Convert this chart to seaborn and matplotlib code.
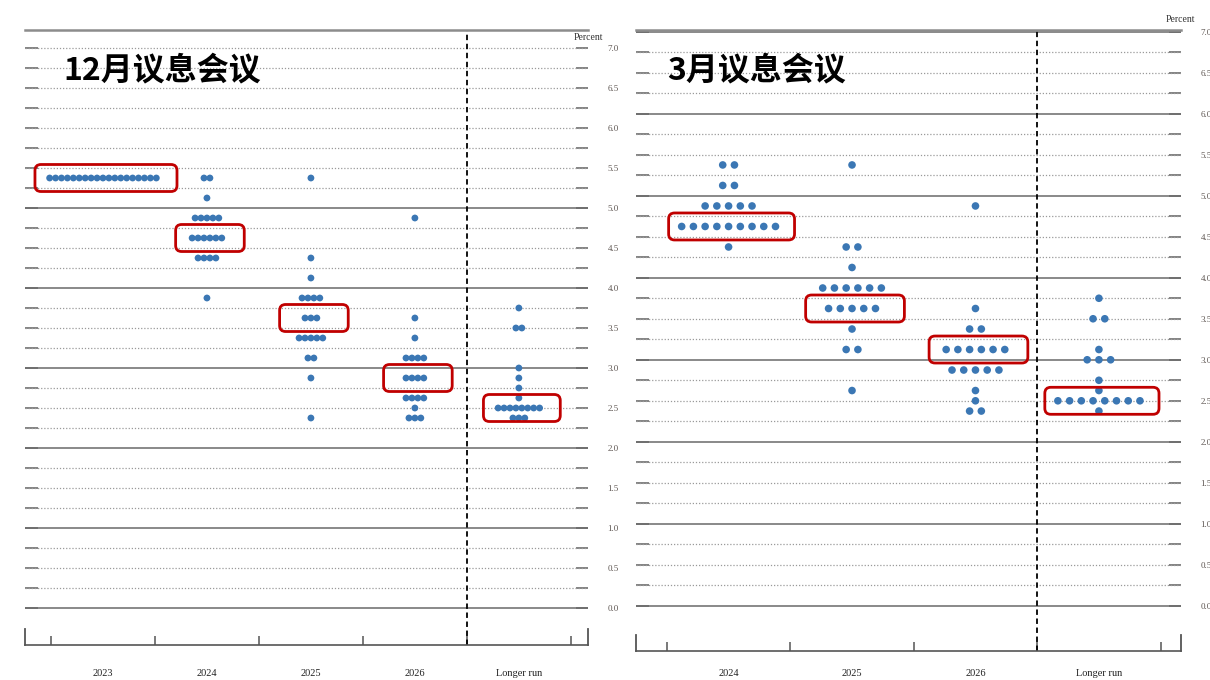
import numpy as np
import pandas as pd
import matplotlib
matplotlib.use('Agg')
import matplotlib.pyplot as plt
import seaborn as sns
from matplotlib.patches import FancyBboxPatch

# December 2023 projections (left panel)
dec_years = ['2023', '2024', '2025', '2026', 'Longer run']
dec_2023_rates = [5.375]
dec_2023_counts = [19]
dec_2024_rates = [5.375, 5.125, 4.875, 4.625, 4.375, 3.875]
dec_2024_counts = [2, 1, 5, 6, 4, 1]
dec_2025_rates = [5.375, 4.375, 4.125, 3.875, 3.625, 3.375, 3.125, 2.875, 2.375]
dec_2025_counts = [1, 1, 1, 4, 3, 5, 2, 1, 1]
dec_2026_rates = [4.875, 3.625, 3.375, 3.125, 2.875, 2.625, 2.5, 2.375]
dec_2026_counts = [1, 1, 1, 4, 4, 4, 1, 3]
dec_lr_rates = [3.75, 3.5, 3.0, 2.875, 2.75, 2.625, 2.5, 2.375]
dec_lr_counts = [1, 2, 1, 1, 1, 1, 8, 3]
dec_boxed = [5.375, 4.625, 3.625, 2.875, 2.5]

# March 2024 projections (right panel)
mar_years = ['2024', '2025', '2026', 'Longer run']
mar_2024_rates = [5.375, 5.125, 4.875, 4.625, 4.375]
mar_2024_counts = [2, 2, 5, 9, 1]
mar_2025_rates = [5.375, 4.375, 4.125, 3.875, 3.625, 3.375, 3.125, 2.625]
mar_2025_counts = [1, 2, 1, 6, 5, 1, 2, 1]
mar_2026_rates = [4.875, 3.625, 3.375, 3.125, 2.875, 2.625, 2.5, 2.375]
mar_2026_counts = [1, 1, 2, 6, 5, 1, 1, 2]
mar_lr_rates = [3.75, 3.5, 3.125, 3.0, 2.75, 2.625, 2.5, 2.375]
mar_lr_counts = [1, 2, 1, 3, 1, 1, 8, 1]
mar_boxed = [4.625, 3.625, 3.125, 2.5]

y_levels = np.arange(0, 7.01, 0.25)
y_labels = np.arange(0, 7.01, 0.5)

DOT = '#3b77b4'
RED = '#c00000'


def dots_frame(years, rates_by_year, counts_by_year, spacing):
    rows = []
    for i, (rates, counts) in enumerate(zip(rates_by_year, counts_by_year)):
        for r, c in zip(rates, counts):
            for o in (np.arange(c) - (c - 1) / 2) * spacing:
                rows.append({'x': i + o, 'rate': r, 'year': years[i]})
    return pd.DataFrame(rows)


def draw_panel(ax, years, rates_by_year, counts_by_year, boxed, spacing, dot_size,
               ylim, solid_max, box_pad, box_min, label_pad):
    n = len(years)
    xlim = (-0.75, n - 0.5 + 0.165)
    ax.set_xlim(xlim)
    ax.set_ylim(ylim)

    # grid: solid at whole numbers, dotted elsewhere
    for lv in y_levels:
        if lv % 1 == 0 and lv <= solid_max:
            ax.axhline(lv, color='#6a6a6a', lw=1.1, zorder=1)
        else:
            ax.axhline(lv, color='#9a9a9a', lw=0.9, ls=(0, (1, 1.5)), zorder=1)

    df = dots_frame(years, rates_by_year, counts_by_year, spacing)
    sns.scatterplot(data=df, x='x', y='rate', ax=ax, color=DOT, s=dot_size,
                    edgecolor='none', zorder=3, legend=False)

    ax.axvline(n - 1.5, color='black', lw=1.3, ls=(0, (3, 2)), zorder=2)

    # red boxes around the median rows
    bbox = ax.get_window_extent()
    px = bbox.width / (xlim[1] - xlim[0])
    py = bbox.height / (ylim[1] - ylim[0])
    for i, (rates, counts, b) in enumerate(zip(rates_by_year, counts_by_year, boxed)):
        c = counts[rates.index(b)]
        half = max((c - 1) / 2 * spacing + box_pad, box_min)
        h = 13.5 / py
        patch = FancyBboxPatch((i - half + 3 / px, b - h), 2 * half, 2 * h,
                               boxstyle='round,pad=0,rounding_size=%f' % (6 / px),
                               mutation_aspect=px / py, fc='none', ec=RED,
                               lw=2.0, zorder=4)
        ax.add_patch(patch)

    # axes cosmetics
    ax.set_xlabel('')
    ax.set_ylabel('')
    bounds = np.arange(n + 1) - 0.5
    ax.set_xticks(bounds)
    ax.set_xticklabels([''] * len(bounds))
    ax.set_xticks(np.arange(n), minor=True)
    ax.set_xticklabels(years, minor=True, fontsize=7.5, color='#222222')
    ax.tick_params(axis='x', which='major', direction='in', length=6.5, width=1.1,
                   color='#555555', bottom=True)
    ax.tick_params(axis='x', which='minor', length=0, pad=label_pad, bottom=True)

    ax.set_yticks(y_levels)
    ax.set_yticklabels(['%.1f' % v if v in y_labels else '' for v in y_levels])
    ax.tick_params(axis='y', direction='in', length=9, width=1.3, color='#7a7a7a',
                   left=True, right=True, labelleft=False, labelright=True,
                   pad=14, labelsize=6.5, labelcolor='#5e5652')

    for side in ['left', 'right']:
        ax.spines[side].set_bounds(ylim[0], ylim[0] + 16 / py)
        ax.spines[side].set_color('#555555')
        ax.spines[side].set_linewidth(1.3)
    ax.spines['bottom'].set_color('#555555')
    ax.spines['bottom'].set_linewidth(1.2)
    ax.spines['top'].set_color('#8c8c8c')
    ax.spines['top'].set_linewidth(1.8)


sns.set_theme(style='white')
plt.rcParams['font.family'] = ['Liberation Serif', 'DejaVu Sans']

fig = plt.figure(figsize=(12.1, 6.8), dpi=100)
ax1 = fig.add_axes([25 / 1210, 35 / 680, 563 / 1210, 615 / 680])
ax2 = fig.add_axes([636 / 1210, 29 / 680, 545 / 1210, 621 / 680])

draw_panel(ax1, dec_years,
           [dec_2023_rates, dec_2024_rates, dec_2025_rates, dec_2026_rates, dec_lr_rates],
           [dec_2023_counts, dec_2024_counts, dec_2025_counts, dec_2026_counts, dec_lr_counts],
           dec_boxed, spacing=0.057, dot_size=24, ylim=(-0.4625, 7.225), solid_max=5,
           box_pad=0.17, box_min=0.33, label_pad=17.5)

draw_panel(ax2, mar_years,
           [mar_2024_rates, mar_2025_rates, mar_2026_rates, mar_lr_rates],
           [mar_2024_counts, mar_2025_counts, mar_2026_counts, mar_lr_counts],
           mar_boxed, spacing=0.095, dot_size=30, ylim=(-0.55, 7.02), solid_max=7,
           box_pad=0.13, box_min=0.40, label_pad=13)

cjk = ['Noto Sans CJK SC', 'DejaVu Sans']
fig.text(63 / 1210, 1 - 70 / 680, '12月议息会议', family=cjk, fontsize=23,
         fontweight='bold', va='center', ha='left', color='black')
fig.text(667 / 1210, 1 - 70 / 680, '3月议息会议', family=cjk, fontsize=23,
         fontweight='bold', va='center', ha='left', color='black')
fig.text(588 / 1210, 1 - 38 / 680, 'Percent', fontsize=7, ha='center', va='center',
         color='#333333')
fig.text(1180 / 1210, 1 - 19 / 680, 'Percent', fontsize=7, ha='center', va='center',
         color='#333333')

fig.savefig('out.png', dpi=100, facecolor='white')
